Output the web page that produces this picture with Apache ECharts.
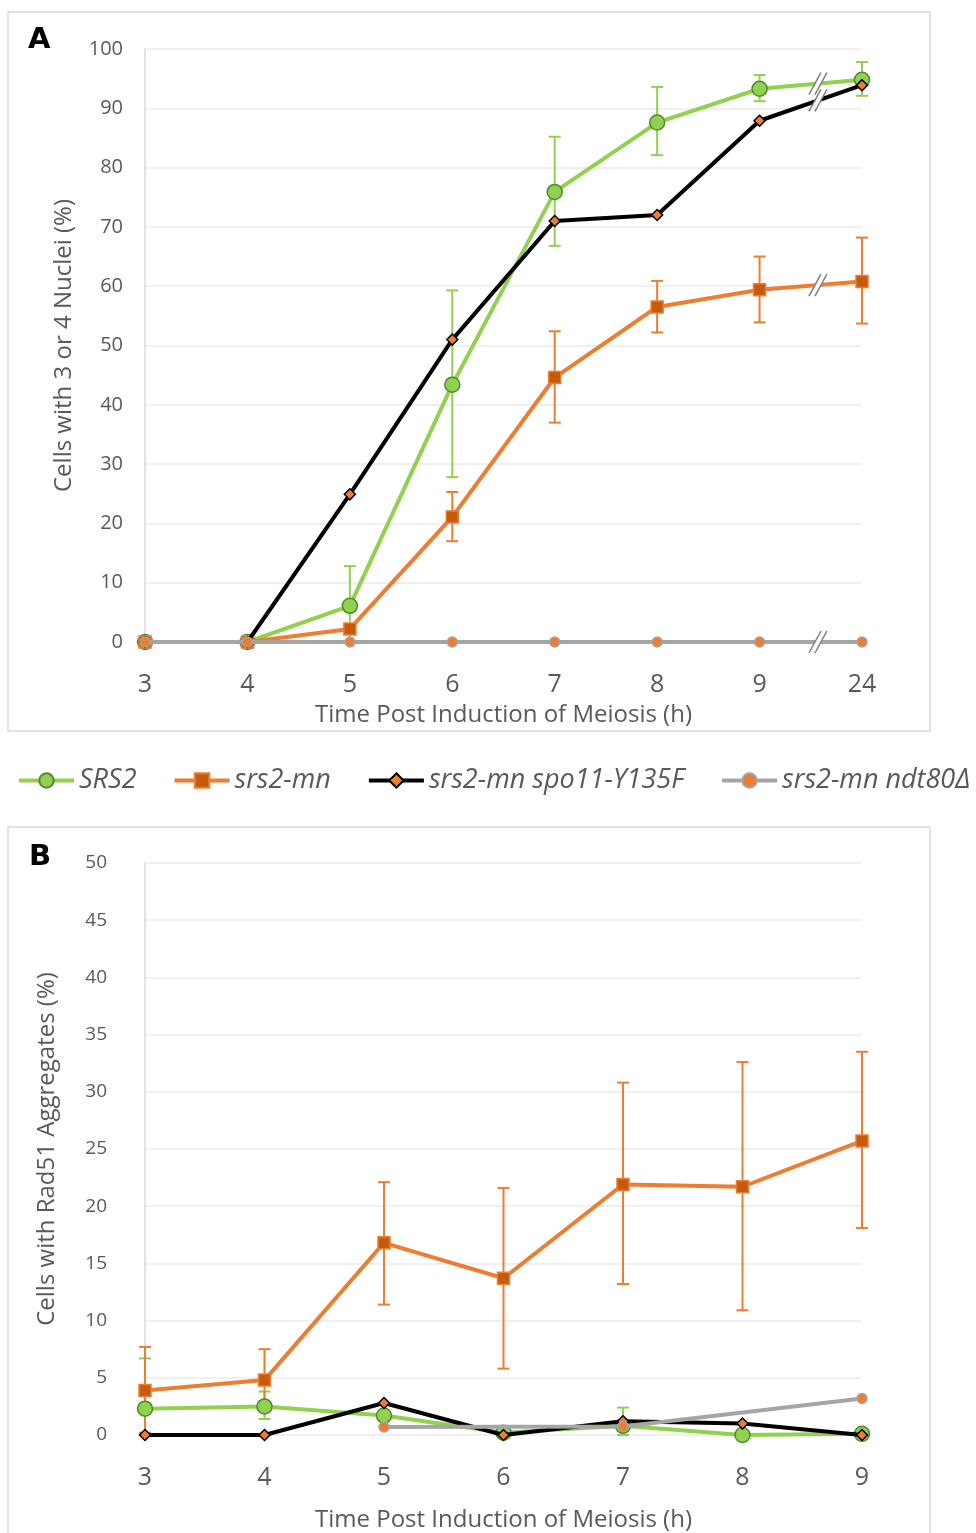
<!DOCTYPE html>
<html>
<head>
<meta charset="utf-8">
<script src="https://cdn.jsdelivr.net/npm/echarts@6/dist/echarts.min.js"></script>
<style>
  html, body { margin: 0; padding: 0; background: #fff; }
  #chart { width: 976px; height: 1533px; }
</style>
</head>
<body>
<div id="chart"></div>
<script>
// Panel A: cells with 3 or 4 nuclei (%)
const hoursA = ['3', '4', '5', '6', '7', '8', '9', '24'];
const srs2A = [0, 0, 6.1, 43.4, 75.9, 87.6, 93.3, 94.8];
const srs2ALow = [null, null, 0, 27.8, 66.8, 82.1, 91.2, 92.1];
const srs2AHigh = [null, null, 12.8, 59.3, 85.2, 93.6, 95.6, 97.8];
const mnA = [0, 0, 2.2, 21.1, 44.6, 56.5, 59.4, 60.8];
const mnALow = [null, null, null, 17.0, 37.0, 52.2, 53.9, 53.7];
const mnAHigh = [null, null, null, 25.3, 52.4, 60.9, 65.0, 68.2];
const spoA = [0, 0, 24.9, 51.0, 71.0, 72.0, 87.9, 93.9];
const ndtA = [0, 0, 0, 0, 0, 0, 0, 0];

// Panel B: cells with Rad51 aggregates (%)
const hoursB = ['3', '4', '5', '6', '7', '8', '9'];
const srs2B = [2.3, 2.5, 1.7, 0.2, 0.8, 0, 0.1];
const srs2BLow = [0, 1.4, null, null, 0, null, null];
const srs2BHigh = [6.7, 3.8, null, null, 2.4, null, null];
const mnB = [3.9, 4.8, 16.8, 13.7, 21.9, 21.7, 25.7];
const mnBLow = [0.2, 2.1, 11.4, 5.8, 13.2, 10.9, 18.1];
const mnBHigh = [7.7, 7.5, 22.1, 21.6, 30.8, 32.6, 33.5];
const spoB = [0, 0, 2.8, 0, 1.2, 1.0, 0];
const ndtB = [null, null, 0.7, null, 0.75, null, 3.2];

const names = ['SRS2', 'srs2-mn', 'srs2-mn spo11-Y135F', 'srs2-mn ndt80Δ'];
const textColor = '#595959';
const font = '"Open Sans", "Noto Sans", sans-serif';

const styles = {
  'SRS2': { symbol: 'circle', symbolSize: 15, line: '#92d050', fill: '#92d050', border: '#4f8a2c' },
  'srs2-mn': { symbol: 'rect', symbolSize: 12, line: '#ed7d31', fill: '#c55a11', border: '#ed7d31' },
  'srs2-mn spo11-Y135F': { symbol: 'diamond', symbolSize: 11, line: '#000000', fill: '#ed7d31', border: '#000000' },
  'srs2-mn ndt80Δ': { symbol: 'circle', symbolSize: 10, line: '#a5a5a5', fill: '#ed7d31', border: '#a5a5a5' }
};

function lineSeries(name, data, grid, z) {
  const s = styles[name];
  return {
    name: name,
    type: 'line',
    xAxisIndex: grid,
    yAxisIndex: grid,
    data: data,
    connectNulls: true,
    symbol: s.symbol,
    symbolSize: s.symbolSize,
    showAllSymbol: true,
    z: z,
    lineStyle: { color: s.line, width: 4 },
    itemStyle: { color: s.fill, borderColor: s.border, borderWidth: 1.5 },
    emphasis: { disabled: true }
  };
}

function errorData(low, high) {
  const out = [];
  low.forEach((v, i) => {
    if (v !== null && high[i] !== null) out.push([i, v, high[i]]);
  });
  return out;
}

function errorSeries(low, high, color, grid) {
  return {
    type: 'custom',
    xAxisIndex: grid,
    yAxisIndex: grid,
    z: 1,
    silent: true,
    data: errorData(low, high),
    renderItem: function (params, api) {
      const x = api.value(0);
      const lo = api.coord([x, api.value(1)]);
      const hi = api.coord([x, api.value(2)]);
      const w = 6;
      const st = { stroke: color, lineWidth: 2 };
      return {
        type: 'group',
        children: [
          { type: 'line', shape: { x1: lo[0], y1: lo[1], x2: hi[0], y2: hi[1] }, style: st },
          { type: 'line', shape: { x1: lo[0] - w, y1: lo[1], x2: lo[0] + w, y2: lo[1] }, style: st },
          { type: 'line', shape: { x1: hi[0] - w, y1: hi[1], x2: hi[0] + w, y2: hi[1] }, style: st }
        ]
      };
    }
  };
}

// axis break marks between the 9 h and 24 h points of panel A
const breakData = [srs2A, mnA, spoA, ndtA].map(arr => [6, arr[6], arr[7]]);

const breakSeries = {
  type: 'custom',
  xAxisIndex: 0,
  yAxisIndex: 0,
  z: 20,
  silent: true,
  data: breakData,
  renderItem: function (params, api) {
    const a = api.coord([api.value(0), api.value(1)]);
    const b = api.coord([api.value(0) + 1, api.value(2)]);
    const t = 0.57;
    const cx = a[0] + (b[0] - a[0]) * t;
    const cy = a[1] + (b[1] - a[1]) * t;
    const hh = 11, hw = 6, g = 3;
    return {
      type: 'group',
      children: [
        { type: 'polygon', shape: { points: [[cx - hw - g, cy + hh], [cx + hw - g, cy - hh], [cx + hw + g, cy - hh], [cx - hw + g, cy + hh]] },
          style: { fill: '#ffffff' } },
        { type: 'line', shape: { x1: cx - hw - g, y1: cy + hh, x2: cx + hw - g, y2: cy - hh }, style: { stroke: '#7f7f7f', lineWidth: 1.5 } },
        { type: 'line', shape: { x1: cx - hw + g, y1: cy + hh, x2: cx + hw + g, y2: cy - hh }, style: { stroke: '#7f7f7f', lineWidth: 1.5 } }
      ]
    };
  }
};

function xAxis(grid, data, margin, nameGap) {
  return {
    type: 'category',
    gridIndex: grid,
    data: data,
    boundaryGap: false,
    axisTick: { show: false },
    axisLine: { show: false },
    axisLabel: { color: textColor, fontSize: 25, fontFamily: font, margin: margin },
    name: 'Time Post Induction of Meiosis (h)',
    nameLocation: 'middle',
    nameGap: nameGap,
    nameTextStyle: { color: textColor, fontSize: 24, fontFamily: font }
  };
}

function yAxis(grid, max, interval, name, margin, nameGap, size) {
  return {
    type: 'value',
    gridIndex: grid,
    min: 0,
    max: max,
    interval: interval,
    axisTick: { show: false },
    axisLine: { show: true, lineStyle: { color: '#d9d9d9', width: 1.5 } },
    splitLine: { lineStyle: { color: '#ebebeb', width: 1.5 } },
    axisLabel: { color: textColor, fontSize: size, fontFamily: font, margin: margin },
    name: name,
    nameLocation: 'middle',
    nameGap: nameGap,
    nameRotate: 90,
    nameTextStyle: { color: textColor, fontSize: 24, fontFamily: font }
  };
}

const chart = echarts.init(document.getElementById('chart'));

const option = {
  animation: false,
  backgroundColor: '#ffffff',
  graphic: [
    { type: 'rect', shape: { x: 8, y: 12, width: 922, height: 719 }, style: { fill: 'none', stroke: '#d9d9d9', lineWidth: 1.5 }, z: -1 },
    { type: 'rect', shape: { x: 8, y: 827, width: 922, height: 720 }, style: { fill: 'none', stroke: '#d9d9d9', lineWidth: 1.5 }, z: -1 },
    { type: 'text', left: 28, top: 26, style: { text: 'A', font: '900 29px "DejaVu Sans", sans-serif', fill: '#000' } },
    { type: 'text', left: 29, top: 843, style: { text: 'B', font: '900 29px "DejaVu Sans", sans-serif', fill: '#000' } }
  ],
  legend: {
    data: names,
    left: 12,
    top: 762,
    itemWidth: 55,
    itemHeight: 18,
    itemGap: 36,
    lineStyle: { width: 4 },
    textStyle: { color: textColor, fontSize: 27, fontStyle: 'italic', fontFamily: font },
    selectedMode: false
  },
  grid: [
    { left: 145, right: 114, top: 49, bottom: 891, outerBoundsMode: 'none' },
    { left: 145, right: 114, top: 863, bottom: 98, outerBoundsMode: 'none' }
  ],
  xAxis: [
    xAxis(0, hoursA, 30, 61),
    xAxis(1, hoursB, 30, 73)
  ],
  yAxis: [
    yAxis(0, 100, 10, 'Cells with 3 or 4 Nuclei (%)', 22, 69, 20),
    yAxis(1, 50, 5, 'Cells with Rad51 Aggregates (%)', 38, 86, 19)
  ],
  series: [
    errorSeries(srs2ALow, srs2AHigh, '#92d050', 0),
    errorSeries(mnALow, mnAHigh, '#ed7d31', 0),
    lineSeries('SRS2', srs2A, 0, 3),
    lineSeries('srs2-mn', mnA, 0, 4),
    lineSeries('srs2-mn spo11-Y135F', spoA, 0, 5),
    lineSeries('srs2-mn ndt80Δ', ndtA, 0, 6),
    breakSeries,
    errorSeries(srs2BLow, srs2BHigh, '#92d050', 1),
    errorSeries(mnBLow, mnBHigh, '#ed7d31', 1),
    lineSeries('SRS2', srs2B, 1, 3),
    lineSeries('srs2-mn', mnB, 1, 4),
    lineSeries('srs2-mn spo11-Y135F', spoB, 1, 5),
    lineSeries('srs2-mn ndt80Δ', ndtB, 1, 6)
  ]
};

chart.setOption(option);
</script>
</body>
</html>
